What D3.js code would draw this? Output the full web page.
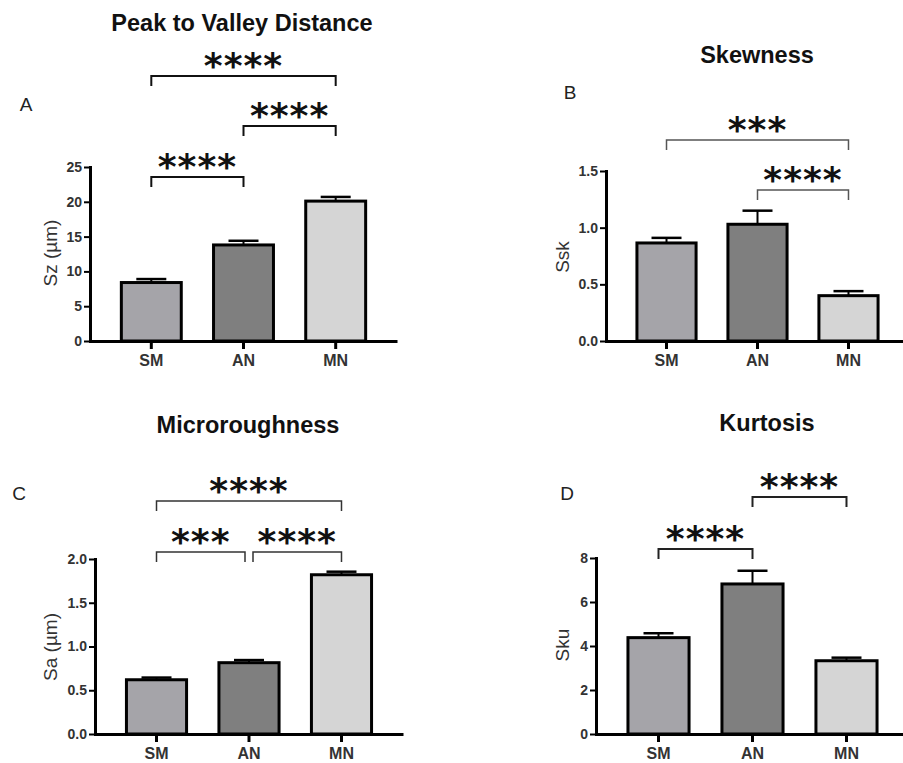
<!DOCTYPE html>
<meta charset="utf-8">
<style>
body { margin: 0; background: #fff; }
svg { font-family: "Liberation Sans", Arial, sans-serif; }
.title { font-weight: bold; font-size: 23.5px; text-anchor: middle; fill: #111; }
.letter { font-size: 19px; text-anchor: middle; fill: #222; }
.ylab { font-size: 19px; text-anchor: middle; fill: #333; }
.stars { font-family: "DejaVu Sans", sans-serif; font-weight: bold; font-size: 36px; text-anchor: middle; fill: #111; letter-spacing: 1px; }
.axis path, .axis line { stroke: #000; }
.axis text { fill: #333; font-family: "Liberation Sans", Arial, sans-serif; }
</style>
<body>
<script src="https://d3js.org/d3.v7.min.js"></script>
<script>

// groups on the x axis
var groups = ["SM", "AN", "MN"];
var barColors = ["#a5a4a9", "#7f7f7f", "#d5d5d5"];

// A - peak to valley distance (Sz, µm)
var szMean = [8.4, 13.8, 20.1];
var szErr  = [0.5, 0.6, 0.6];
var szSig  = [[0, 2, "****"], [1, 2, "****"], [0, 1, "****"]];

// B - skewness (Ssk)
var sskMean = [0.865, 1.03, 0.40];
var sskErr  = [0.045, 0.12, 0.04];
var sskSig  = [[0, 2, "***"], [1, 2, "****"]];

// C - microroughness (Sa, µm)
var saMean = [0.62, 0.815, 1.82];
var saErr  = [0.025, 0.03, 0.035];
var saSig  = [[0, 2, "****"], [0, 1, "***"], [1, 2, "****"]];

// D - kurtosis (Sku)
var skuMean = [4.38, 6.82, 3.33];
var skuErr  = [0.2, 0.6, 0.14];
var skuSig  = [[0, 1, "****"], [1, 2, "****"]];

// y tick values
var szTicks  = [0, 5, 10, 15, 20, 25];
var sskTicks = [0, 0.5, 1.0, 1.5];
var saTicks  = [0, 0.5, 1.0, 1.5, 2.0];
var skuTicks = [0, 2, 4, 6, 8];

var svg = d3.select("body").append("svg")
    .attr("width", 903)
    .attr("height", 763);

// layout of each panel (pixels)
var panels = [
  { title: "Peak to Valley Distance", tx: 242, ty: 31, letter: "A", lx: 26, ly: 111,
    ylabel: "Sz (\u00b5m)", yx: 50, yy: 253,
    x0: 90, x1: 397, yBottom: 341, yTop: 167, yMax: 25, ticks: szTicks, fmt: d3.format("d"),
    mean: szMean, err: szErr, sig: szSig, brY: [76, 126, 177], brColor: "#111", brWidth: 2, inset: 0 },
  { title: "Skewness", tx: 757, ty: 63, letter: "B", lx: 570, ly: 99,
    ylabel: "Ssk", yx: 562, yy: 257,
    x0: 606, x1: 909, yBottom: 341, yTop: 171, yMax: 1.5, ticks: sskTicks, fmt: d3.format(".1f"),
    mean: sskMean, err: sskErr, sig: sskSig, brY: [140, 190], brColor: "#555", brWidth: 1.5, inset: 0 },
  { title: "Microroughness", tx: 248, ty: 433, letter: "C", lx: 19, ly: 500,
    ylabel: "Sa (\u00b5m)", yx: 50, yy: 647,
    x0: 95, x1: 403, yBottom: 734, yTop: 559, yMax: 2, ticks: saTicks, fmt: d3.format(".1f"),
    mean: saMean, err: saErr, sig: saSig, brY: [501, 552, 552], brColor: "#333", brWidth: 1.5, inset: 4 },
  { title: "Kurtosis", tx: 767, ty: 431, letter: "D", lx: 567, ly: 500,
    ylabel: "Sku", yx: 562, yy: 645,
    x0: 596, x1: 909, yBottom: 734, yTop: 558, yMax: 8, ticks: skuTicks, fmt: d3.format("d"),
    mean: skuMean, err: skuErr, sig: skuSig, brY: [549, 497], brColor: "#222", brWidth: 2, inset: 0 }
];

panels.forEach(drawPanel);

function drawPanel(p) {
  var g = svg.append("g");

  var x = d3.scaleBand()
      .domain(groups)
      .range([p.x0, p.x1])
      .paddingInner(0.35)
      .paddingOuter(0.34);
  var y = d3.scaleLinear()
      .domain([0, p.yMax])
      .range([p.yBottom, p.yTop]);
  var cx = function(i) { return x(groups[i]) + x.bandwidth() / 2; };

  // titles and labels
  g.append("text").attr("class", "title").attr("x", p.tx).attr("y", p.ty).text(p.title);
  g.append("text").attr("class", "letter").attr("x", p.lx).attr("y", p.ly).text(p.letter);
  g.append("text").attr("class", "ylab")
      .attr("transform", "translate(" + p.yx + "," + p.yy + ") rotate(-90)")
      .attr("dy", "0.35em")
      .text(p.ylabel);

  // error bars (upper only)
  var eb = g.selectAll(".err").data(p.mean).join("g").attr("class", "err");
  eb.append("line")
      .attr("x1", function(d, i) { return cx(i); })
      .attr("x2", function(d, i) { return cx(i); })
      .attr("y1", function(d) { return y(d); })
      .attr("y2", function(d, i) { return y(d + p.err[i]); })
      .attr("stroke", "#000").attr("stroke-width", 2);
  eb.append("line")
      .attr("x1", function(d, i) { return cx(i) - 15; })
      .attr("x2", function(d, i) { return cx(i) + 15; })
      .attr("y1", function(d, i) { return y(d + p.err[i]); })
      .attr("y2", function(d, i) { return y(d + p.err[i]); })
      .attr("stroke", "#000").attr("stroke-width", 2.5);

  // bars
  g.selectAll(".bar").data(p.mean).join("rect")
      .attr("class", "bar")
      .attr("x", function(d, i) { return x(groups[i]); })
      .attr("y", function(d) { return y(d); })
      .attr("width", x.bandwidth())
      .attr("height", function(d) { return y(0) - y(d); })
      .attr("fill", function(d, i) { return barColors[i]; })
      .attr("stroke", "#000")
      .attr("stroke-width", 3);

  // axes
  var xa = g.append("g")
      .attr("class", "axis")
      .attr("transform", "translate(0," + p.yBottom + ")")
      .call(d3.axisBottom(x).tickSize(8).tickSizeOuter(0).tickPadding(6));
  xa.select(".domain").attr("stroke-width", 3);
  xa.selectAll(".tick line").attr("stroke-width", 3);
  xa.selectAll(".tick text").attr("font-size", 16).attr("font-weight", "bold").attr("fill", "#111");

  var ya = g.append("g")
      .attr("class", "axis")
      .attr("transform", "translate(" + p.x0 + ",0)")
      .call(d3.axisLeft(y).tickValues(p.ticks).tickFormat(p.fmt).tickSize(6).tickSizeOuter(0).tickPadding(2));
  ya.select(".domain").attr("stroke-width", 3).attr("stroke-linecap", "square");
  ya.selectAll(".tick line").attr("stroke-width", 2);
  ya.selectAll(".tick text").attr("font-size", 14).attr("font-weight", "bold");

  // significance brackets
  p.sig.forEach(function(s, k) {
    var by = p.brY[k];
    var xl = cx(s[0]) + (s[0] === 1 ? p.inset : 0);
    var xr = cx(s[1]) - (s[1] === 1 ? p.inset : 0);
    g.append("path")
        .attr("d", "M" + xl + "," + (by + 10) + "V" + by + "H" + xr + "V" + (by + 10))
        .attr("fill", "none")
        .attr("stroke", p.brColor)
        .attr("stroke-width", p.brWidth);
    g.append("text")
        .attr("class", "stars")
        .attr("x", (xl + xr) / 2)
        .attr("y", by + 2)
        .text(s[2]);
  });
}

</script>
</body>
